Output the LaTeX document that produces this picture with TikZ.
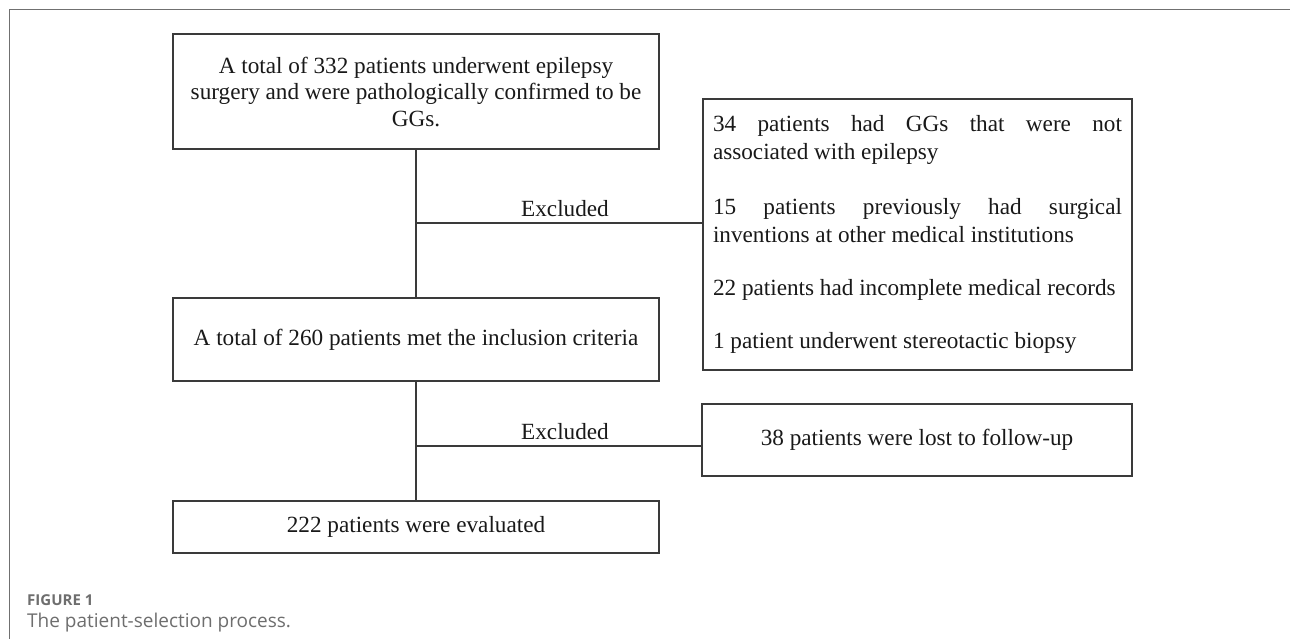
\documentclass[tikz,border=0pt]{standalone}
\usepackage{fontspec}
\setmainfont{Liberation Serif}
\newfontfamily\capfont{Open Sans}
\definecolor{framegray}{HTML}{707070}
\definecolor{boxline}{HTML}{3A3A3A}
\definecolor{capgray}{HTML}{6E6E6E}
\begin{document}
\begin{tikzpicture}[x=1pt,y=-1pt,
  flowbox/.style={draw=boxline,line width=1.2pt,inner sep=0pt,align=center,
    font=\fontsize{23.2}{26.5}\selectfont,text=black!90},
  conn/.style={draw=boxline,line width=1.2pt},
  exlabel/.style={font=\fontsize{23.2}{26.5}\selectfont,text=black!90,anchor=base,inner sep=0pt}]
\useasboundingbox (0,0) rectangle (1290,639);
\fill[white] (0,0) rectangle (1290,639);
% outer frame
\draw[framegray,line width=1.6pt] (9.5,639) -- (9.5,9.5) -- (1290,9.5);
% boxes
\node[flowbox,minimum width=486pt,minimum height=115pt] (b1) at (416,91.5)
  {A total of 332 patients underwent epilepsy\\surgery and were pathologically confirmed to be\\GGs.};
\node[flowbox,minimum width=429pt,minimum height=271pt] (b2) at (917.5,234.5)
  {\parbox{409pt}{\fontsize{23.2}{28}\selectfont
   34 patients had GGs that were not\linebreak associated with epilepsy\par\vspace{27pt}
   15 patients previously had surgical\linebreak inventions at other medical institutions\par\vspace{25pt}
   22 patients had incomplete medical records\par\vspace{25pt}
   1 patient underwent stereotactic biopsy}};
\node[flowbox,minimum width=486pt,minimum height=83pt] (b3) at (416,339.5)
  {A total of 260 patients met the inclusion criteria};
\node[flowbox,minimum width=430pt,minimum height=72pt] (b4) at (917,440)
  {38 patients were lost to follow-up};
\node[flowbox,minimum width=486pt,minimum height=52pt] (b5) at (416,527)
  {222 patients were evaluated};
% junctions
\coordinate (j1) at (416,223);
\coordinate (j2) at (416,446);
\draw[conn] (b1.south) -- (b3.north);
\draw[conn] (b3.south) -- (b5.north);
\draw[conn] (j1) -- (j1 -| b2.west);
\draw[conn] (j2) -- (j2 -| b4.west);
\node[exlabel] (e1) at (565,216) {Excluded};
\node[exlabel] (e2) at (565,439) {Excluded};
% caption
\node[anchor=base west,inner sep=0pt,font=\capfont\fontsize{15}{18}\selectfont\bfseries,text=capgray] (cap1) at (27,605) {FIGURE 1};
\node[anchor=base west,inner sep=0pt,font=\capfont\fontsize{19}{23}\selectfont,text=capgray] (cap2) at (27,627) {The patient-selection process.};
\end{tikzpicture}
\end{document}
